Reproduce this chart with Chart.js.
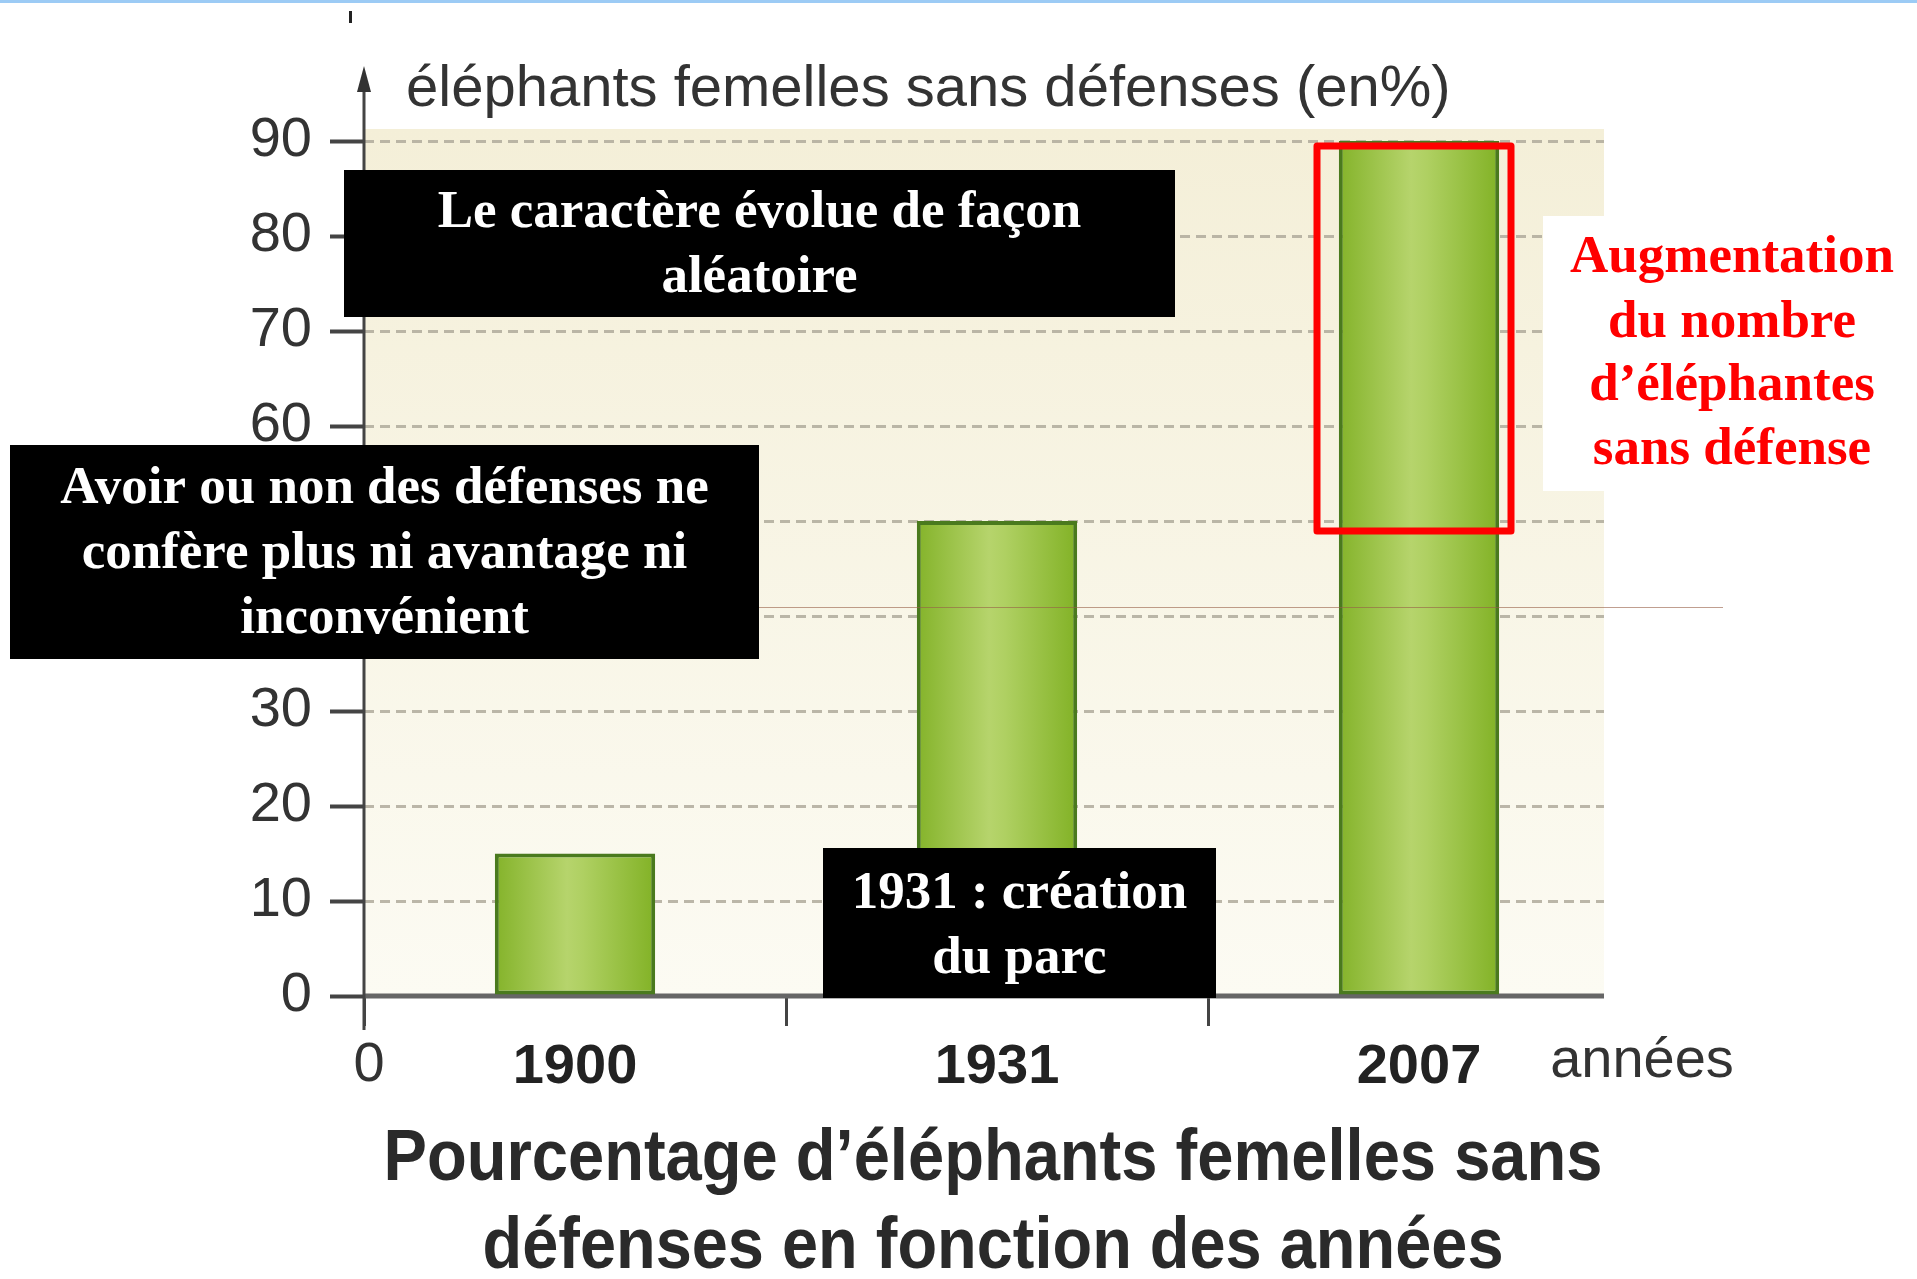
<!DOCTYPE html>
<html>
<head>
<meta charset="utf-8">
<script src="https://cdn.jsdelivr.net/npm/chart.js@4"></script>
<style>
  body { margin: 0; background: #fff; }
  canvas { display: block; }
</style>
</head>
<body>
<canvas id="chart" width="1917" height="1279"></canvas>
<script>
const years = ["1900", "1931", "2007"];
const tuskless = [15, 50, 90];
const yTicks = [0, 10, 20, 30, 40, 50, 60, 70, 80, 90];

const yTitle = "éléphants femelles sans défenses (en%)";
const xUnit = "années";
const titleLines = ["Pourcentage d’éléphants femelles sans", "défenses en fonction des années"];
const notes = [
  { lines: ["Le caractère évolue de façon", "aléatoire"], box: [344, 170, 831, 147], lineY: [213, 278] },
  { lines: ["Avoir ou non des défenses ne", "confère plus ni avantage ni", "inconvénient"], box: [10, 445, 749, 214], lineY: [489, 554, 619] },
  { lines: ["1931 : création", "du parc"], box: [823, 848, 393, 150], lineY: [894, 959] },
];
const redNote = ["Augmentation", "du nombre", "d’éléphantes", "sans défense"];

const AXIS_RIGHT = 1604;
const canvas = document.getElementById("chart");

function barFill(c) {
  const chart = c.chart;
  const xs = chart.scales.x;
  if (!chart.chartArea || !xs) return "#9cc23d";
  const cx = xs.getPixelForValue(c.dataIndex);
  const half = (xs.width / years.length) * 0.38 / 2;
  const g = chart.ctx.createLinearGradient(cx - half, 0, cx + half, 0);
  g.addColorStop(0, "#84b32a");
  g.addColorStop(0.45, "#b6d46c");
  g.addColorStop(0.55, "#afd062");
  g.addColorStop(1, "#82b226");
  return g;
}

const decor = {
  id: "decor",
  beforeDraw(chart) {
    const { ctx, chartArea: a } = chart;
    ctx.save();
    const g = ctx.createLinearGradient(0, a.top - 12, 0, a.bottom);
    g.addColorStop(0, "#f4efd8");
    g.addColorStop(1, "#fcfbf3");
    ctx.fillStyle = g;
    ctx.fillRect(a.left, a.top - 12, AXIS_RIGHT - a.left, a.bottom - a.top + 12);
    ctx.fillStyle = "#9ccbf5";
    ctx.fillRect(0, 0, 1917, 3);
    ctx.fillStyle = "#222";
    ctx.fillRect(349, 11, 3, 12);
    ctx.restore();
  },
  beforeDatasetsDraw(chart) {
    const { ctx, chartArea: a } = chart;
    ctx.save();
    // grid stops at the end of the x axis
    ctx.fillStyle = "#fff";
    ctx.fillRect(AXIS_RIGHT, a.top - 5, a.right - AXIS_RIGHT + 5, a.bottom - a.top + 10);
    ctx.strokeStyle = "#666";
    ctx.lineWidth = 5;
    ctx.beginPath();
    ctx.moveTo(a.left, a.bottom);
    ctx.lineTo(AXIS_RIGHT, a.bottom);
    ctx.stroke();
    ctx.restore();
  },
  afterDraw(chart) {
    const { ctx, chartArea: a } = chart;
    ctx.save();
    // faint stray line
    ctx.strokeStyle = "rgba(150,95,70,0.6)";
    ctx.lineWidth = 1;
    ctx.beginPath();
    ctx.moveTo(759, 607.5);
    ctx.lineTo(1723, 607.5);
    ctx.stroke();

    // y axis line with arrow
    ctx.strokeStyle = "#444";
    ctx.lineWidth = 3;
    ctx.beginPath();
    ctx.moveTo(a.left, 80);
    ctx.lineTo(a.left, 1030);
    ctx.stroke();
    ctx.fillStyle = "#333";
    ctx.beginPath();
    ctx.moveTo(a.left, 66);
    ctx.lineTo(a.left - 7, 92);
    ctx.lineTo(a.left + 7, 92);
    ctx.closePath();
    ctx.fill();

    // axis texts
    ctx.fillStyle = "#333";
    ctx.font = "58px 'Liberation Sans', Arial, sans-serif";
    ctx.textAlign = "left";
    ctx.textBaseline = "middle";
    ctx.fillText(yTitle, 406, 90);
    ctx.font = "56px 'Liberation Sans', Arial, sans-serif";
    ctx.textAlign = "center";
    ctx.fillText("0", 369, 1066);
    ctx.fillText(xUnit, 1642, 1062);

    // bottom title, condensed
    ctx.fillStyle = "#2a2a2a";
    ctx.font = "bold 72px 'Liberation Sans', Arial, sans-serif";
    const widths = [1219, 1021];
    const ys = [1160, 1248];
    titleLines.forEach((t, i) => {
      const w = ctx.measureText(t).width;
      ctx.save();
      ctx.translate(993, ys[i]);
      ctx.scale(widths[i] / w, 1);
      ctx.fillText(t, 0, 0);
      ctx.restore();
    });

    // black notes
    ctx.font = "bold 53px 'Liberation Serif', 'Times New Roman', serif";
    notes.forEach(n => {
      const [x, y, w, h] = n.box;
      ctx.fillStyle = "#000";
      ctx.fillRect(x, y, w, h);
      ctx.fillStyle = "#fff";
      n.lines.forEach((t, i) => ctx.fillText(t, x + w / 2, n.lineY[i]));
    });

    // red note
    ctx.fillStyle = "#fff";
    ctx.fillRect(1543, 216, 374, 275);
    ctx.fillStyle = "#ff0000";
    const ry = [258, 323, 386, 450];
    redNote.forEach((t, i) => ctx.fillText(t, 1732, ry[i]));

    // red frame around the 2007 bar
    ctx.strokeStyle = "#ff0000";
    ctx.lineWidth = 7;
    ctx.lineJoin = "round";
    ctx.strokeRect(1317, 146, 194, 385);
    ctx.restore();
  }
};

new Chart(canvas.getContext("2d"), {
  type: "bar",
  data: {
    labels: years,
    datasets: [{
      data: tuskless,
      backgroundColor: barFill,
      borderColor: "#4a7a1e",
      borderWidth: 4,
      borderSkipped: false,
      categoryPercentage: 1,
      barPercentage: 0.38,
    }],
  },
  options: {
    responsive: false,
    animation: false,
    devicePixelRatio: 1,
    layout: { padding: { left: 0, top: 141, right: 287, bottom: 163 } },
    plugins: { legend: { display: false }, tooltip: { enabled: false } },
    scales: {
      x: {
        afterFit: (s) => { s.height = 120; },
        grid: {
          drawOnChartArea: false,
          drawTicks: true,
          tickLength: 30,
          tickWidth: 3,
          tickColor: (c) => (c.index === undefined ? "transparent" : "#444"),
        },
        border: { display: false },
        ticks: {
          color: "#222",
          padding: 8,
          font: { family: "'Liberation Sans', Arial, sans-serif", size: 56, weight: "bold" },
        },
      },
      y: {
        min: 0,
        max: 90,
        afterFit: (s) => { s.width = 364; },
        afterBuildTicks: (s) => { s.ticks = yTicks.map(v => ({ value: v })); },
        grid: {
          color: (c) => (c.tick && c.tick.value === 0 ? "transparent" : "rgba(175,170,155,0.85)"),
          lineWidth: 3,
          tickLength: 34,
          tickWidth: 4,
          tickColor: "#444",
          tickBorderDash: [],
        },
        border: { display: false, dash: [10, 6] },
        ticks: {
          color: "#333",
          padding: 18,
          font: { family: "'Liberation Sans', Arial, sans-serif", size: 56 },
        },
      },
    },
  },
  plugins: [decor],
});
</script>
</body>
</html>
